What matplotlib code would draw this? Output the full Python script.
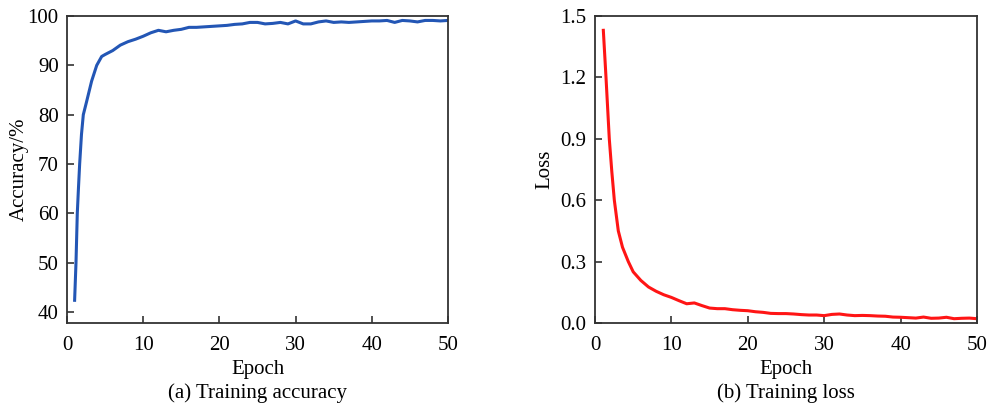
import matplotlib
matplotlib.use("Agg")
import matplotlib.pyplot as plt
import numpy as np

plt.rcParams['font.family'] = ['Liberation Serif', 'DejaVu Serif']
plt.rcParams['mathtext.fontset'] = 'stix'

acc_epochs = [1, 1.18, 1.35, 1.5, 1.66, 1.9, 2.14, 2.58, 3.23, 3.9, 4.55, 5, 6, 7, 8, 9, 10,
              11, 12, 13, 14, 15, 16, 17, 18, 19, 20, 21, 22, 23, 24, 25, 26, 27, 28, 29, 30,
              31, 32, 33, 34, 35, 36, 37, 38, 39, 40, 41, 42, 43, 44, 45, 46, 47, 48, 49, 50]
acc_values = [42.4, 50, 60, 65, 70, 76, 80, 82.7, 86.8, 90, 91.8, 92.2, 93.0, 94.1, 94.8, 95.3, 95.9,
              96.6, 97.1, 96.8, 97.1, 97.3, 97.7, 97.7, 97.8, 97.9, 98.0, 98.1, 98.3, 98.4, 98.7, 98.7, 98.4,
              98.5, 98.7, 98.4, 99.0, 98.4, 98.4, 98.8, 99.0, 98.7, 98.8, 98.7, 98.8, 98.9, 99.0, 99.0, 99.1,
              98.7, 99.1, 99.0, 98.8, 99.1, 99.1, 99.0, 99.1]

loss_epochs = [1.09, 1.44, 1.87, 2.2, 2.53, 3.05, 3.6, 4.36, 5, 6, 7, 8, 9, 10,
               11, 12, 13, 14, 15, 16, 17, 18, 19, 20, 21, 22, 23, 24, 25, 26, 27, 28, 29, 30,
               31, 32, 33, 34, 35, 36, 37, 38, 39, 40, 41, 42, 43, 44, 45, 46, 47, 48, 49, 50]
loss_values = [1.43, 1.2, 0.9, 0.74, 0.6, 0.45, 0.37, 0.30, 0.25, 0.208, 0.176, 0.155, 0.138, 0.125,
               0.109, 0.094, 0.098, 0.085, 0.073, 0.070, 0.070, 0.065, 0.062, 0.060, 0.055, 0.052, 0.047, 0.046,
               0.046, 0.044, 0.041, 0.039, 0.039, 0.036, 0.042, 0.044, 0.039, 0.036, 0.037, 0.036, 0.034, 0.033,
               0.029, 0.028, 0.026, 0.024, 0.029, 0.023, 0.024, 0.028, 0.021, 0.023, 0.024, 0.021]

acc_ticks = [40, 50, 60, 70, 80, 90, 100]
loss_ticks = [0.0, 0.3, 0.6, 0.9, 1.2, 1.5]
x_ticks = [0, 10, 20, 30, 40, 50]

fig = plt.figure(figsize=(9.92, 4.03), dpi=100)
ax1 = fig.add_axes([67/992, 1-323/403, 381/992, 307/403])
ax2 = fig.add_axes([595/992, 1-323/403, 382/992, 307/403])

FS = 15
for ax in (ax1, ax2):
    for s in ax.spines.values():
        s.set_color('#333333')
        s.set_linewidth(1.3)
    ax.tick_params(direction='in', length=5, width=1.2, color='#333333',
                   labelsize=FS, top=False, right=False)
    ax.tick_params(axis='x', pad=9)
    ax.tick_params(axis='y', pad=6)
    ax.set_xlim(0, 50)
    ax.set_xticks(x_ticks)
    ax.set_xlabel('Epoch', fontsize=FS, labelpad=4)

ax1.plot(acc_epochs, acc_values, color='#2356b5', lw=2.2)
ax1.set_ylim(37.8, 100)
ax1.set_yticks(acc_ticks)
ax1.set_ylabel('Accuracy/%', fontsize=FS, labelpad=-1)

ax2.plot(loss_epochs, loss_values, color='#ff1515', lw=2.2)
ax2.set_ylim(0, 1.5)
ax2.set_yticks(loss_ticks)
ax2.set_yticklabels([f'{t:.1f}' for t in loss_ticks])
ax2.set_ylabel('Loss', fontsize=FS, labelpad=4.5)

fig.text(257/992, 1-393/403, '(a) Training accuracy', fontsize=FS, ha='center', va='center')
fig.text(786/992, 1-393/403, '(b) Training loss', fontsize=FS, ha='center', va='center')

fig.savefig('out.png', dpi=100)
